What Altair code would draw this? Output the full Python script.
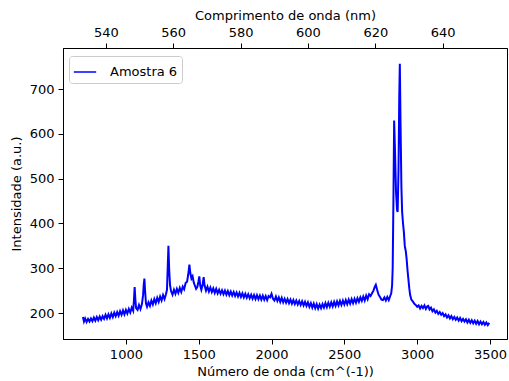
import altair as alt
import pandas as pd

# Raman spectrum
wavenumber = [
    705, 712, 720, 730, 740, 750, 760, 770, 780, 790, 800, 810, 820, 830, 840, 850,
    860, 870, 880, 890, 900, 910, 920, 930, 940, 950, 960, 970, 980, 990, 1000, 1010,
    1020, 1030, 1040, 1050, 1055, 1060, 1065, 1070, 1080, 1090, 1100, 1110, 1118, 1122,
    1127, 1132, 1138, 1145, 1155, 1165, 1175, 1185, 1195, 1205, 1215, 1225, 1235, 1245,
    1255, 1265, 1275, 1282, 1287, 1292, 1297, 1303, 1310, 1320, 1330, 1340, 1350, 1360,
    1370, 1380, 1390, 1400, 1410, 1420, 1428, 1436, 1442, 1450, 1458, 1466, 1474, 1482,
    1490, 1498, 1504, 1510, 1518, 1526, 1534, 1540, 1550, 1560, 1570, 1580, 1590, 1600,
    1610, 1620, 1630, 1640, 1650, 1660, 1670, 1680, 1690, 1700, 1710, 1720, 1730, 1740,
    1750, 1760, 1770, 1780, 1790, 1800, 1810, 1820, 1830, 1840, 1850, 1860, 1870, 1880,
    1890, 1900, 1910, 1920, 1930, 1940, 1950, 1960, 1970, 1980, 1990, 2000, 2010, 2020,
    2030, 2040, 2050, 2060, 2070, 2080, 2090, 2100, 2110, 2120, 2130, 2140, 2150, 2160,
    2170, 2180, 2190, 2200, 2210, 2220, 2230, 2240, 2250, 2260, 2270, 2280, 2290, 2300,
    2310, 2320, 2330, 2340, 2350, 2360, 2370, 2380, 2390, 2400, 2410, 2420, 2430, 2440,
    2450, 2460, 2470, 2480, 2490, 2500, 2510, 2520, 2530, 2540, 2550, 2560, 2570, 2580,
    2590, 2600, 2610, 2620, 2630, 2640, 2650, 2660, 2670, 2680, 2690, 2700, 2708, 2716,
    2725, 2735, 2745, 2755, 2765, 2775, 2785, 2795, 2805, 2815, 2822, 2828, 2832, 2837,
    2842, 2848, 2855, 2862, 2866, 2872, 2877, 2881, 2886, 2892, 2897, 2903, 2909, 2915,
    2922, 2928, 2934, 2940, 2946, 2952, 2960, 2970, 2980, 2990, 3000, 3010, 3020, 3030,
    3040, 3050, 3060, 3070, 3076, 3085, 3095, 3105, 3115, 3125, 3135, 3145, 3155, 3165,
    3175, 3185, 3195, 3205, 3215, 3225, 3235, 3245, 3255, 3265, 3275, 3285, 3295, 3305,
    3315, 3325, 3335, 3345, 3355, 3365, 3375, 3385, 3395, 3405, 3415, 3425, 3435, 3445,
    3455, 3465, 3475, 3485, 3495,
]
intensity = [
    191, 181, 188, 180, 187, 181, 188, 182, 190, 183, 191, 184, 192, 185, 193, 187,
    196, 188, 197, 189, 199, 191, 201, 193, 202, 194, 204, 196, 206, 197, 207, 199,
    209, 201, 212, 205, 228, 258, 230, 211, 207, 218, 209, 220, 240, 262,
    277, 248, 221, 214, 224, 216, 228, 219, 231, 222, 234, 225, 237, 228,
    240, 231, 242, 252, 300, 350, 298, 262, 249, 241, 252, 243, 254, 245,
    256, 247, 259, 253, 267, 270, 286, 308, 290, 277, 282, 268, 261, 254,
    258, 270, 282, 262, 252, 262, 280, 262, 250, 259, 248, 257, 247, 255,
    245, 254, 244, 252, 243, 251, 242, 250, 241, 249, 240, 248, 239, 247,
    238, 246, 237, 245, 236, 244, 235, 243, 234, 242, 233, 241, 232, 240,
    231, 240, 231, 239, 230, 239, 230, 238, 229, 238, 235, 243, 232, 228,
    237, 227, 235, 225, 234, 224, 232, 223, 231, 222, 230, 221, 229, 220,
    228, 219, 227, 218, 226, 217, 225, 216, 224, 214, 222, 212, 221, 211,
    220, 210, 219, 211, 220, 212, 222, 213, 223, 214, 224, 215, 225, 216,
    226, 217, 227, 218, 228, 219, 229, 220, 230, 221, 231, 222, 232, 223,
    233, 225, 235, 227, 237, 228, 239, 231, 242, 238, 244, 250, 258, 263,
    252, 241, 236, 230, 229, 235, 228, 236, 229, 238, 244, 262, 300, 450,
    630, 560, 470, 430, 426, 520, 680, 757, 620, 480, 425, 400, 380, 350,
    338, 320, 295, 275, 255, 240, 230, 226, 221, 218, 214, 217, 210, 216,
    211, 217, 209, 215, 216, 208, 212, 204, 208, 201, 205, 198, 202, 196,
    200, 193, 197, 190, 195, 188, 193, 186, 191, 185, 190, 183, 189, 182,
    187, 181, 186, 179, 185, 178, 184, 177, 183, 176, 182, 175, 181, 175,
    180, 174, 179, 173, 178,
]
series_name = "Amostra 6"

x_ticks = [1000, 1500, 2000, 2500, 3000, 3500]
y_ticks = [200, 300, 400, 500, 600, 700]
top_ticks = [540, 560, 580, 600, 620, 640]
x_domain = [568, 3617]
y_domain = [142, 792]
top_domain = [527.3, 659.1]

df = pd.DataFrame({"wn": wavenumber, "I": intensity, "series": series_name})
df_top = pd.DataFrame({"wl": top_domain})

FONT = "DejaVu Sans"

line = alt.Chart(df).mark_line(strokeWidth=2, strokeJoin="miter").encode(
    x=alt.X(
        "wn:Q",
        scale=alt.Scale(domain=x_domain, nice=False, zero=False),
        axis=alt.Axis(orient="bottom", values=x_ticks, title="Número de onda (cm^(-1))", format="d"),
    ),
    y=alt.Y(
        "I:Q",
        scale=alt.Scale(domain=y_domain, nice=False, zero=False),
        axis=alt.Axis(values=y_ticks, title="Intensidade (a.u.)", format="d", titlePadding=6),
    ),
    color=alt.Color(
        "series:N",
        scale=alt.Scale(range=["#0000ff"]),
        legend=alt.Legend(
            title=None,
            orient="none",
            legendX=6,
            legendY=8,
            symbolType="stroke",
            symbolSize=500,
            symbolStrokeWidth=1.5,
            labelFontSize=13,
            labelFont=FONT,
            labelColor="black",
            labelOffset=13,
            padding=4,
            fillColor="white",
            strokeColor="#cccccc",
            cornerRadius=3,
        ),
    ),
)

top = alt.Chart(df_top).mark_point(opacity=0).encode(
    x=alt.X(
        "wl:Q",
        scale=alt.Scale(domain=top_domain, nice=False, zero=False),
        axis=alt.Axis(orient="top", values=top_ticks, title="Comprimento de onda (nm)", format="d"),
    ),
)

chart = (
    alt.layer(line, top)
    .resolve_scale(x="independent")
    .properties(
        width=444,
        height=291,
        padding={"left": 63, "top": 48, "right": 2, "bottom": 42},
        autosize=alt.AutoSizeParams(type="none"),
        background="white",
    )
    .configure_view(stroke="black", strokeWidth=1)
    .configure_axis(
        grid=False,
        domainColor="black",
        tickColor="black",
        tickSize=5,
        labelColor="black",
        titleColor="black",
        labelFont=FONT,
        titleFont=FONT,
        labelFontSize=13,
        titleFontSize=13,
        titleFontWeight="normal",
        labelPadding=4,
        titlePadding=4,
    )
)

chart.save("out.html", embed_options={"renderer": "svg", "actions": False})
